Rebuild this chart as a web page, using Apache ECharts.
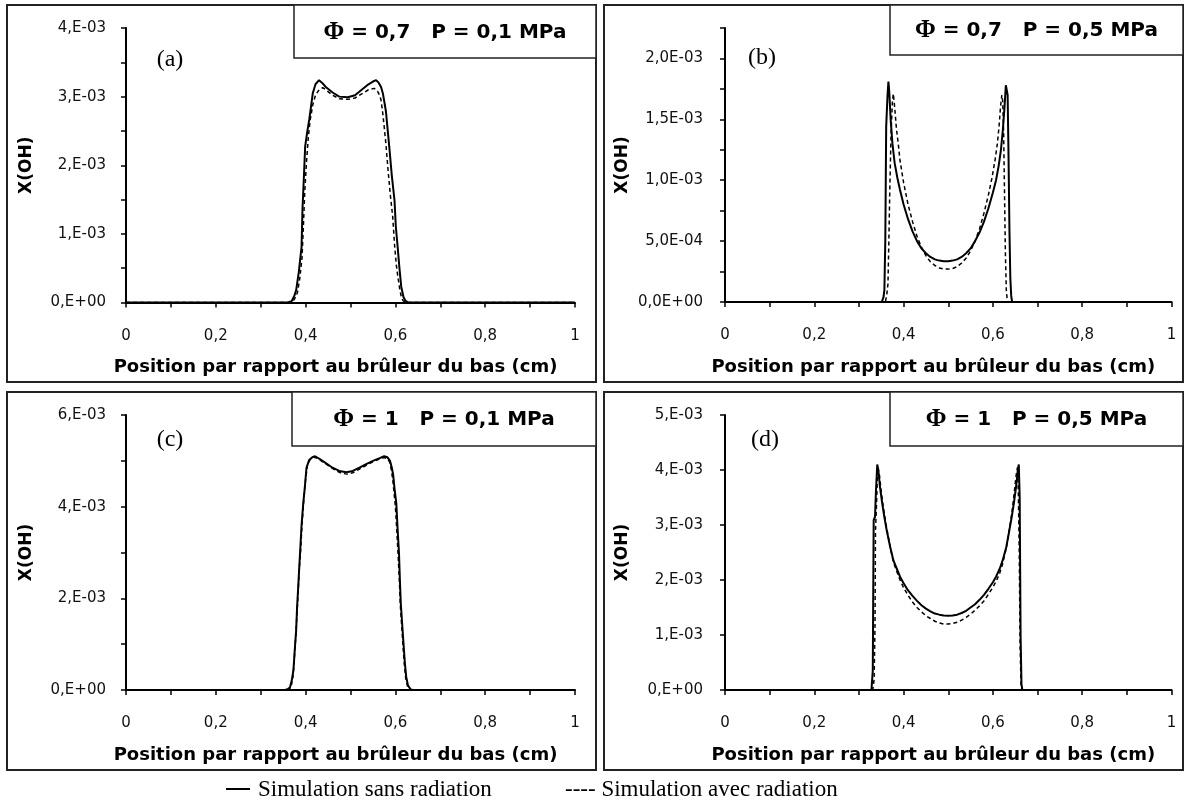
<!DOCTYPE html>
<html><head><meta charset="utf-8">
<script src="https://cdn.jsdelivr.net/npm/echarts@6/dist/echarts.min.js"></script>
<style>html,body{margin:0;padding:0;background:#fff}#c{width:1188px;height:810px}</style>
</head><body><div id="c"></div>
<script>
// ---------- DATA (x in cm, X(OH) in units of 1E-03) ----------
const xTickLabels = ['0', '0,2', '0,4', '0,6', '0,8', '1'];
const yTickLabelsA = ['0,E+00', '1,E-03', '2,E-03', '3,E-03', '4,E-03'];
const yTickLabelsB = ['0,0E+00', '5,0E-04', '1,0E-03', '1,5E-03', '2,0E-03'];
const yTickLabelsC = ['0,E+00', '2,E-03', '4,E-03', '6,E-03'];
const yTickLabelsD = ['0,E+00', '1,E-03', '2,E-03', '3,E-03', '4,E-03', '5,E-03'];
const panelTitles = [['0,7', '0,1'], ['0,7', '0,5'], ['1', '0,1'], ['1', '0,5']];
const panelLetters = ['(a)', '(b)', '(c)', '(d)'];
const legendNames = ['Simulation sans radiation', 'Simulation avec radiation'];

// (a) Φ=0,7 P=0,1 MPa
const aSans = [[0,0],[0.36,0],[0.369,0.02],[0.375,0.1],[0.379,0.18],[0.385,0.45],[0.391,0.81],[0.393,1.35],[0.396,1.8],[0.399,2.27],[0.404,2.5],[0.408,2.66],[0.412,2.85],[0.416,3.05],[0.422,3.18],[0.43,3.24],[0.437,3.2],[0.445,3.14],[0.46,3.06],[0.475,3.0],[0.494,2.99],[0.51,3.02],[0.525,3.1],[0.54,3.18],[0.55,3.22],[0.557,3.24],[0.563,3.2],[0.568,3.14],[0.572,3.05],[0.576,2.9],[0.579,2.78],[0.583,2.5],[0.587,2.22],[0.592,1.85],[0.598,1.49],[0.601,1.1],[0.605,0.81],[0.609,0.5],[0.613,0.23],[0.618,0.08],[0.622,0.03],[0.628,0],[1,0]];
const aAvec = [[0,0],[0.365,0],[0.372,0.02],[0.378,0.08],[0.382,0.15],[0.387,0.35],[0.392,0.65],[0.395,1.1],[0.398,1.6],[0.402,2.05],[0.406,2.4],[0.41,2.65],[0.416,2.88],[0.422,3.02],[0.43,3.1],[0.438,3.13],[0.445,3.1],[0.46,3.02],[0.475,2.97],[0.494,2.96],[0.51,2.98],[0.525,3.04],[0.54,3.1],[0.553,3.12],[0.56,3.08],[0.565,3.02],[0.568,2.95],[0.572,2.75],[0.576,2.5],[0.579,2.3],[0.584,1.9],[0.589,1.55],[0.594,1.25],[0.598,0.85],[0.602,0.55],[0.605,0.4],[0.61,0.18],[0.614,0.06],[0.618,0.02],[0.623,0],[1,0]];
// (b) Φ=0,7 P=0,5 MPa
const bSans = [[0,0],[0.351,0],[0.355,0.04],[0.357,0.1],[0.359,0.5],[0.361,1.44],[0.364,1.7],[0.366,1.81],[0.368,1.72],[0.371,1.5],[0.375,1.3],[0.38,1.14],[0.386,1.02],[0.392,0.92],[0.40,0.8],[0.41,0.68],[0.42,0.58],[0.43,0.5],[0.44,0.44],[0.45,0.4],[0.46,0.37],[0.47,0.35],[0.48,0.34],[0.49,0.335],[0.50,0.335],[0.51,0.34],[0.52,0.35],[0.53,0.37],[0.54,0.4],[0.55,0.44],[0.56,0.5],[0.57,0.57],[0.58,0.66],[0.59,0.77],[0.6,0.9],[0.607,1.0],[0.613,1.12],[0.618,1.25],[0.622,1.4],[0.626,1.6],[0.629,1.78],[0.631,1.79],[0.633,1.7],[0.635,1.2],[0.637,0.6],[0.639,0.2],[0.641,0.05],[0.643,0],[1,0]];
const bAvec = [[0,0],[0.359,0],[0.362,0.05],[0.365,0.15],[0.367,0.5],[0.369,0.9],[0.372,1.4],[0.375,1.65],[0.377,1.71],[0.38,1.6],[0.384,1.42],[0.388,1.3],[0.392,1.16],[0.4,0.98],[0.41,0.8],[0.42,0.66],[0.43,0.54],[0.44,0.45],[0.45,0.38],[0.46,0.33],[0.47,0.3],[0.48,0.28],[0.49,0.27],[0.5,0.27],[0.51,0.275],[0.52,0.29],[0.53,0.32],[0.54,0.36],[0.55,0.42],[0.56,0.5],[0.57,0.6],[0.58,0.73],[0.59,0.88],[0.598,1.02],[0.605,1.17],[0.61,1.3],[0.614,1.45],[0.617,1.6],[0.62,1.7],[0.622,1.65],[0.624,1.4],[0.626,0.9],[0.628,0.4],[0.63,0.1],[0.632,0.02],[0.634,0],[1,0]];
// (c) Φ=1 P=0,1 MPa
const cSans = [[0,0],[0.354,0],[0.36,0.02],[0.365,0.05],[0.369,0.2],[0.373,0.44],[0.376,0.9],[0.379,1.31],[0.381,1.8],[0.384,2.33],[0.386,2.7],[0.388,3.05],[0.391,3.6],[0.395,4.1],[0.399,4.5],[0.402,4.85],[0.408,5.02],[0.415,5.08],[0.421,5.1],[0.43,5.05],[0.445,4.95],[0.46,4.85],[0.475,4.78],[0.491,4.75],[0.505,4.78],[0.52,4.85],[0.535,4.93],[0.55,5.0],[0.565,5.06],[0.575,5.1],[0.582,5.08],[0.588,5.0],[0.592,4.85],[0.595,4.7],[0.598,4.4],[0.602,4.07],[0.605,3.5],[0.608,2.98],[0.61,2.4],[0.612,1.89],[0.615,1.45],[0.618,1.02],[0.621,0.6],[0.624,0.29],[0.628,0.1],[0.634,0.01],[0.64,0],[1,0]];
const cAvec = [[0,0],[0.358,0],[0.364,0.02],[0.368,0.08],[0.372,0.3],[0.375,0.7],[0.378,1.15],[0.381,1.7],[0.384,2.25],[0.386,2.65],[0.389,3.05],[0.392,3.6],[0.396,4.15],[0.4,4.6],[0.404,4.9],[0.41,5.03],[0.418,5.08],[0.425,5.06],[0.435,5.0],[0.45,4.9],[0.465,4.8],[0.48,4.73],[0.492,4.71],[0.505,4.74],[0.52,4.82],[0.535,4.9],[0.55,4.98],[0.565,5.04],[0.575,5.07],[0.582,5.05],[0.587,4.98],[0.591,4.8],[0.594,4.6],[0.597,4.3],[0.6,4.0],[0.603,3.5],[0.606,2.95],[0.609,2.35],[0.611,1.85],[0.614,1.4],[0.617,0.95],[0.62,0.55],[0.623,0.25],[0.627,0.08],[0.632,0.01],[0.637,0],[1,0]];
// (d) Φ=1 P=0,5 MPa
const dSans = [[0,0],[0.328,0],[0.331,0.36],[0.333,3.09],[0.336,3.15],[0.338,3.6],[0.341,4.1],[0.344,3.95],[0.347,3.7],[0.352,3.4],[0.357,3.14],[0.362,2.91],[0.37,2.6],[0.377,2.36],[0.385,2.2],[0.392,2.06],[0.4,1.94],[0.41,1.81],[0.42,1.71],[0.43,1.62],[0.44,1.54],[0.45,1.48],[0.46,1.43],[0.47,1.39],[0.48,1.37],[0.49,1.355],[0.5,1.35],[0.51,1.355],[0.52,1.37],[0.53,1.4],[0.54,1.44],[0.55,1.5],[0.56,1.56],[0.57,1.64],[0.58,1.73],[0.59,1.84],[0.6,1.96],[0.607,2.06],[0.615,2.2],[0.622,2.36],[0.63,2.6],[0.637,2.91],[0.642,3.14],[0.647,3.4],[0.652,3.7],[0.656,4.0],[0.658,4.1],[0.66,3.5],[0.662,1.0],[0.664,0.1],[0.666,0],[1,0]];
const dAvec = [[0,0],[0.331,0],[0.334,0.2],[0.336,1.2],[0.337,2.9],[0.339,3.3],[0.341,3.8],[0.343,4.05],[0.346,3.9],[0.35,3.6],[0.355,3.3],[0.362,2.95],[0.37,2.6],[0.377,2.33],[0.385,2.15],[0.392,2.0],[0.4,1.86],[0.41,1.72],[0.42,1.6],[0.43,1.5],[0.44,1.42],[0.45,1.35],[0.46,1.3],[0.47,1.25],[0.48,1.22],[0.49,1.2],[0.5,1.2],[0.51,1.21],[0.52,1.23],[0.53,1.27],[0.54,1.32],[0.55,1.38],[0.56,1.45],[0.57,1.53],[0.58,1.62],[0.59,1.74],[0.6,1.87],[0.607,1.97],[0.615,2.12],[0.622,2.3],[0.63,2.58],[0.637,2.93],[0.643,3.25],[0.648,3.6],[0.652,3.9],[0.655,4.05],[0.657,3.6],[0.659,2.5],[0.661,0.8],[0.663,0.1],[0.665,0],[1,0]];

// ---------- LAYOUT ----------
const SANS = 'DejaVu Sans';
const grids = [
  {left: 126, top: 28, width: 449, height: 274.5},
  {left: 725, top: 28, width: 446.5, height: 274},
  {left: 126, top: 415, width: 449, height: 275},
  {left: 725, top: 415, width: 446.5, height: 275}
];
const yCfg = [
  {max: 4, tickStep: 0.5, labelStep: 1, labels: yTickLabelsA},
  {max: 2.25, tickStep: 0.25, labelStep: 0.5, labels: yTickLabelsB},
  {max: 6, tickStep: 1, labelStep: 2, labels: yTickLabelsC},
  {max: 5, tickStep: 1, labelStep: 1, labels: yTickLabelsD}
];
const axisLineStyle = {color: '#000', width: 2};

const xAxes = grids.map((g, i) => ({
  type: 'value', gridIndex: i, min: 0, max: 1, interval: 0.1,
  axisLine: {show: true, onZero: false, lineStyle: axisLineStyle},
  axisTick: {show: true, inside: false, length: 5, lineStyle: {color: '#000', width: 1.5}},
  splitLine: {show: false},
  axisLabel: {
    margin: 26, color: '#111', fontFamily: SANS, fontSize: 15,
    formatter: v => { const k = Math.round(v * 10); return k % 2 === 0 ? xTickLabels[k / 2] : ''; }
  },
  name: 'Position par rapport au brûleur du bas (cm)', nameLocation: 'middle', nameGap: 56,
  nameTextStyle: {fontFamily: SANS, fontWeight: 'bold', fontSize: 18, color: '#000', padding: [0, 30, 0, 0]}
}));
const yAxes = grids.map((g, i) => ({
  type: 'value', gridIndex: i, min: 0, max: yCfg[i].max, interval: yCfg[i].tickStep,
  axisLine: {show: true, lineStyle: axisLineStyle},
  axisTick: {show: true, inside: false, length: 5, lineStyle: {color: '#000', width: 1.5}},
  splitLine: {show: false},
  axisLabel: {
    margin: i % 2 === 0 ? 20 : 22, color: '#111', fontFamily: SANS, fontSize: 15,
    formatter: v => {
      const r = v / yCfg[i].labelStep; const k = Math.round(r);
      if (Math.abs(r - k) > 1e-6) return '';
      return yCfg[i].labels[k] || '';
    }
  },
  name: 'X(OH)', nameLocation: 'middle', nameRotate: 90, nameGap: i % 2 === 0 ? 91 : 94,
  nameTextStyle: {fontFamily: SANS, fontWeight: 'bold', fontSize: 17, color: '#000'}
}));

const datasets = [[aSans, aAvec], [bSans, bAvec], [cSans, cAvec], [dSans, dAvec]];
const series = [];
datasets.forEach((pair, i) => {
  series.push({type: 'line', name: legendNames[0], xAxisIndex: i, yAxisIndex: i, data: pair[0],
    showSymbol: false, symbol: 'none', silent: true, animation: false,
    lineStyle: {color: '#000', width: 2, type: 'solid'}, z: 3});
  series.push({type: 'line', name: legendNames[1], xAxisIndex: i, yAxisIndex: i, data: pair[1],
    showSymbol: false, symbol: 'none', silent: true, animation: false,
    lineStyle: {color: '#000', width: 1.5, type: [4, 3]}, z: 4});
});

// panel frames and title boxes
const frames = [
  {x: 7, y: 5, w: 589, h: 377},
  {x: 604, y: 5, w: 579, h: 377},
  {x: 7, y: 392, w: 589, h: 378},
  {x: 604, y: 392, w: 579, h: 378}
];
const boxes = [
  {x: 294, y: 5, w: 302, h: 53},
  {x: 890, y: 5, w: 293, h: 50},
  {x: 292, y: 392, w: 304, h: 54},
  {x: 890, y: 392, w: 293, h: 54}
];
const letterPos = [[170, 60], [762, 58], [170, 440], [765, 440]];
const graphic = [];
frames.forEach(f => graphic.push({type: 'rect', z: 0, silent: true,
  shape: {x: f.x, y: f.y, width: f.w, height: f.h},
  style: {fill: 'none', stroke: '#222', lineWidth: 2}}));
boxes.forEach((b, i) => {
  graphic.push({type: 'rect', z: 10, silent: true,
    shape: {x: b.x, y: b.y, width: b.w, height: b.h},
    style: {fill: '#fff', stroke: '#222', lineWidth: 1.5}});
  graphic.push({type: 'text', z: 11, silent: true, x: b.x + b.w / 2, y: b.y + b.h / 2 + 1,
    style: {text: '{p|Φ}{t| = ' + panelTitles[i][0] + '   P = ' + panelTitles[i][1] + ' MPa}',
      textAlign: 'center', textVerticalAlign: 'middle',
      rich: {p: {fontFamily: 'Liberation Serif', fontWeight: 'bold', fontSize: 25, fill: '#000'},
             t: {fontFamily: SANS, fontWeight: 'bold', fontSize: 20, fill: '#000'}}}});
});
letterPos.forEach((p, i) => graphic.push({type: 'text', z: 11, silent: true, x: p[0], y: p[1],
  style: {text: panelLetters[i], font: '24px "Liberation Serif"', fill: '#000', textAlign: 'center', textVerticalAlign: 'middle'}}));
// bottom legend
graphic.push({type: 'line', z: 11, silent: true, shape: {x1: 226, y1: 789, x2: 250, y2: 789}, style: {stroke: '#000', lineWidth: 2}});
graphic.push({type: 'text', z: 11, silent: true, x: 258, y: 790,
  style: {text: legendNames[0], font: '23px "Liberation Serif"', fill: '#000', textAlign: 'left', textVerticalAlign: 'middle'}});
graphic.push({type: 'text', z: 11, silent: true, x: 565, y: 790,
  style: {text: '---- ' + legendNames[1], font: '23px "Liberation Serif"', fill: '#000', textAlign: 'left', textVerticalAlign: 'middle'}});

const chart = echarts.init(document.getElementById('c'), null, {renderer: 'canvas'});
chart.setOption({
  animation: false,
  backgroundColor: '#fff',
  grid: grids.map(g => Object.assign({containLabel: false}, g)),
  xAxis: xAxes, yAxis: yAxes, series: series, graphic: graphic
});
</script></body></html>
